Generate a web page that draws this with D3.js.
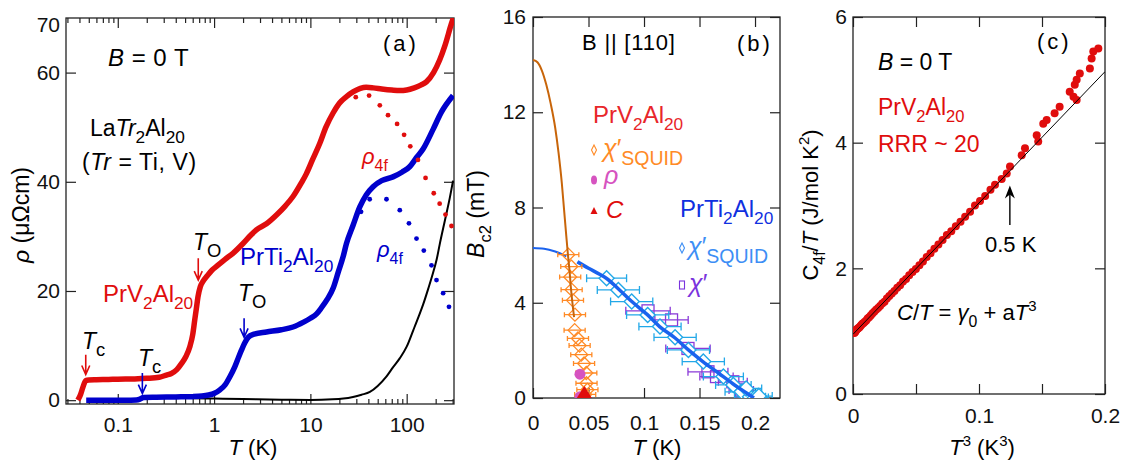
<!DOCTYPE html>
<html>
<head>
<meta charset="utf-8">
<script src="https://cdn.jsdelivr.net/npm/d3@7"></script>
<style>
  body { margin: 0; background: #fff; }
  svg text { font-family: Arial, "Liberation Sans", sans-serif; }
</style>
</head>
<body>
<svg id="fig" width="1129" height="464"></svg>
<script>
// ---------- panel (a): resistivity, [T (K), rho (uOhm cm)] ----------
var rhoPrV = [
  [0.0385,0],[0.041,1.0],[0.0435,2.4],[0.0465,3.6],[0.05,3.7],[0.06,3.75],[0.08,3.8],[0.1,3.85],
  [0.15,3.9],[0.2,4.0],[0.27,4.2],[0.32,4.6],[0.36,4.9],[0.41,5.6],[0.458,6.7],[0.51,8.0],
  [0.56,9.8],[0.6,12.0],[0.63,14.7],[0.655,16.8],[0.68,18.9],[0.72,20.8],[0.77,21.8],[0.85,22.8],
  [0.95,23.8],[1.06,24.5],[1.3,25.8],[1.57,26.9],[2.0,28.7],[2.4,30.2],[2.75,31.2],[3.5,32.3],
  [4.5,34.0],[5.5,35.6],[6.6,37.3],[8.0,39.7],[9.1,41.5],[10.5,44.0],[12.5,47.0],[14.5,50.0],
  [17.2,52.6],[20,54.4],[23.7,55.6],[28,56.5],[33,57.1],[38,57.3],[45,57.2],[55,57.0],
  [70,56.8],[85,56.7],[100,56.8],[120,57.2],[140,57.7],[160,58.3],[190,60.0],[220,62.3],
  [250,65.0],[292,69.0],[305,70]
];
var rhoPrTi = [
  [0.047,0],[0.08,0],[0.12,0],[0.156,0.05],[0.17,0.2],[0.185,0.5],[0.25,0.55],[0.4,0.6],
  [0.6,0.65],[0.75,0.75],[0.88,0.95],[0.99,1.2],[1.15,1.9],[1.3,2.8],[1.45,4.2],[1.64,6.1],
  [1.8,7.9],[1.93,9.2],[2.1,10.6],[2.26,11.5],[2.6,12.1],[3.5,12.5],[5.0,12.9],[6.6,13.4],
  [8.5,14.3],[10,15.0],[11.6,15.8],[13,16.9],[15,18.5],[17.3,20.6],[19.5,23.5],[21.9,26.3],
  [23.7,28.7],[27.7,32.0],[32.6,35.4],[38,37.6],[44.8,39.1],[55,40.2],[72,40.9],[90,41.8],
  [108,42.8],[126,44.4],[148,46.0],[188,49.6],[230,52.8],[303,55.8]
];
var rhoLa = [
  [0.6,0.35],[1,0.3],[2,0.2],[5,0.08],[10,0.05],[17,0.15],[22,0.3],[27.7,0.6],[34,1.0],
  [41.5,1.5],[50,2.6],[61.5,4.3],[72,6.0],[85,7.7],[100,9.8],[117,12.8],[133,15.3],[148,17.5],
  [168,20.5],[187,23.2],[205,25.8],[220,28.5],[250,33.0],[280,37.0],[303,40.2]
];
var rho4fPrV = [[29.6,55.5],[40.7,55.8],[52.6,54.0],[64,52.2],[79.5,50.6],[94,48.6],[109,46.5],
  [131,44.0],[157,40.7],[191,37.9],[220,36.0],[253,34.0],[292,31.9]];
var rho4fPrTi = [[33.6,34.5],[41.3,36.8],[61.7,36.8],[84.8,34.8],[105.6,32.4],[126.5,29.6],
  [150.6,27.4],[181,24.7],[204,22.0],[239,19.6],[275,17.1]];
var logMajorA = [0.1, 1, 10, 100];
var logMinorA = [0.03,0.04,0.05,0.06,0.07,0.08,0.09,0.2,0.3,0.4,0.5,0.6,0.7,0.8,0.9,
  2,3,4,5,6,7,8,9,20,30,40,50,60,70,80,90,200,300];
var yTicksA = [0, 20, 40, 60];

// ---------- panel (b): Bc2, [T (K), B (mT), dT] ----------
var bc2PrVfit = [[0,14.2],[0.004,14.1],[0.008,13.75],[0.012,13.15],[0.016,12.35],[0.02,11.35],
  [0.023,10.3],[0.026,9.0],[0.028,7.9],[0.030,6.8],[0.0315,6.0],[0.033,5.3],[0.034,4.7],
  [0.0355,4.0],[0.037,3.4]];
var bc2PrTiFit = [[0,6.3],[0.01,6.27],[0.02,6.15],[0.03,5.95],[0.04,5.72],[0.05,5.45],[0.06,5.2],
  [0.066,5.03],[0.077,4.58],[0.089,4.05],[0.103,3.5],[0.114,3.0],[0.128,2.52],[0.14,2.02],
  [0.153,1.53],[0.167,1.05],[0.18,0.6],[0.192,0.22],[0.199,0]];
var chiSquidV = [[0.0318,6.02,0.0095],[0.0345,5.52,0.0095],[0.0335,5.08,0.0095],[0.0348,4.55,0.0095],
  [0.036,4.1,0.0095],[0.0378,3.5,0.0095],[0.0375,2.85,0.0095],[0.0405,2.5,0.0095],[0.042,2.2,0.0095],
  [0.0435,1.82,0.0095],[0.046,1.45,0.0095],[0.048,1.05,0.0095],[0.0482,0.62,0.0095],
  [0.049,0.35,0.0095],[0.047,0.15,0.0095]];
var chiSquidTi = [[0.0663,5.03,0.018],[0.0769,4.54,0.019],[0.0889,4.05,0.019],[0.1033,3.49,0.019],
  [0.1144,3.0,0.019],[0.128,2.55,0.019],[0.140,2.02,0.019],[0.1534,1.53,0.019],[0.1715,0.9,0.018],
  [0.1805,0.55,0.016],[0.188,0.26,0.015],[0.1955,0.05,0.014],[0.192,0.4,0.014],[0.2,0.02,0.012],
  [0.2035,0.08,0.012]];
var chiAC = [[0.1036,3.66,0.02],[0.1248,3.28,0.015],[0.1396,2.08,0.02],[0.1576,1.1,0.018],
  [0.1653,0.9,0.015],[0.18,0.68,0.013],[0.1876,0.34,0.011],[0.192,0.05,0.01]];
var rhoPts = [[0.0423,1.0],[0.0423,0.05]];
var heatPts = [[0.0462,0]];
var xTicksB = [0, 0.05, 0.1, 0.15, 0.2];
var yTicksB = [0, 4, 8, 12, 16];

// ---------- panel (c): C4f/T vs T^3 ----------
var cT3 = [0.0010,0.0013,0.0017,0.0021,0.0026,0.0031,0.0037,0.0043,0.0050,0.0058,0.0066,0.0075,
  0.0084,0.0094,0.0105,0.0116,0.0128,0.0141,0.0154,0.0168,0.0183,0.0199,0.0215,0.0232,0.0250,
  0.0269,0.0288,0.0308,0.0329,0.0351,0.0374,0.0397,0.0421,0.0446,0.0472,0.0499,0.0527,0.0555,
  0.0585,0.0615,0.0646,0.0678,0.0711,0.0745,0.0780,0.0816,0.0853,0.0890,0.0929,0.0968,0.1008,
  0.1049,0.1091,0.1127,0.1180,0.1220,0.1246,0.1339,0.1365,0.1458,0.147,0.151,0.1537,0.160,
  0.164,0.172,0.175,0.1775,0.176,0.1775,0.180,0.188,0.1894,0.1907,0.1947];
var cOverT = [0.97,0.98,0.99,1.0,1.02,1.03,1.04,1.05,1.06,1.08,1.10,1.12,1.13,1.15,1.17,1.20,
  1.22,1.25,1.28,1.31,1.34,1.37,1.40,1.44,1.47,1.52,1.56,1.60,1.64,1.69,1.73,1.79,1.83,1.89,
  1.94,1.99,2.05,2.11,2.18,2.24,2.31,2.38,2.45,2.53,2.59,2.67,2.74,2.82,2.90,3.00,3.07,3.15,
  3.25,3.33,3.42,3.51,3.62,3.80,3.91,4.12,4.02,4.30,4.36,4.47,4.57,4.81,4.73,4.68,4.92,5.0,
  5.10,5.18,5.34,5.45,5.50];
var fitC = [[0,0.95],[0.2,5.13]];
var xTicksC = [0, 0.05, 0.1, 0.15, 0.2];
var yTicksC = [0, 2, 4, 6];

// ---------- helpers ----------
var svg = d3.select("#fig");
var FRAME = "#222";

// text with italic / sub / sup pieces: "b" = subscript, "p" = superscript, "i" = italic
function rich(g, x, y, parts, o) {
  var size = o.size || 22;
  var subScale = o.sub || 0.72;
  var t = g.append("text").attr("x", x).attr("y", y)
    .attr("font-size", size).attr("fill", o.color || "#000")
    .attr("text-anchor", o.anchor || "start");
  if (o.rotate) t.attr("transform", "rotate(-90," + x + "," + y + ")");
  var cur = 0;
  parts.forEach(function(p) {
    var s = typeof p === "string" ? p : p[0];
    var f = typeof p === "string" ? "" : p[1];
    var ts = t.append("tspan").text(s);
    var off = 0, fs = size;
    if (f.indexOf("b") >= 0) { off = size * 0.3; fs = size * subScale; }
    if (f.indexOf("p") >= 0) { off = -size * 0.42; fs = size * 0.68; }
    if (f.indexOf("i") >= 0) ts.attr("font-style", "italic");
    ts.attr("font-size", fs);
    if (off !== cur) ts.attr("dy", off - cur);
    cur = off;
  });
  return t;
}

function axis(g, gen, tr, labelled) {
  var a = g.append("g").attr("transform", tr).call(gen);
  a.select(".domain").remove();
  a.selectAll(".tick line").attr("stroke", FRAME).attr("stroke-width", 1.2);
  a.selectAll(".tick text").attr("font-size", 21).attr("fill", "#111")
    .attr("font-family", 'Arial, "Liberation Sans", sans-serif');
  if (!labelled) a.selectAll(".tick text").remove();
  return a;
}

function frame(g, x, y, id) {
  var r = [x.range()[0], y.range()[1], x.range()[1] - x.range()[0], y.range()[0] - y.range()[1]];
  svg.append("clipPath").attr("id", id).append("rect")
    .attr("x", r[0]).attr("y", r[1]).attr("width", r[2]).attr("height", r[3]);
  g.append("rect").attr("x", r[0]).attr("y", r[1]).attr("width", r[2]).attr("height", r[3])
    .attr("fill", "none").attr("stroke", FRAME).attr("stroke-width", 1.3);
  return g.append("g").attr("clip-path", "url(#" + id + ")");
}

function arrow(g, x, y0, y1, color) {
  g.append("path")
    .attr("d", "M" + x + "," + y0 + "L" + x + "," + y1 + "M" + (x - 4) + "," + (y1 - 9) + "L" + x + "," + y1 + "L" + (x + 4) + "," + (y1 - 9))
    .attr("fill", "none").attr("stroke", color).attr("stroke-width", 1.6);
}

function diamond(r) { return "M0," + (-r) + "L" + r + ",0L0," + r + "L" + (-r) + ",0Z"; }
var plain = function(d) { return String(d); };

// ================= panel (a) =================
var gA = svg.append("g");
var xA = d3.scaleLog().domain([0.029, 310]).range([66, 454]);
var yA = d3.scaleLinear().domain([-0.7, 70]).range([404, 18]);

axis(gA, d3.axisBottom(xA).tickValues(logMajorA).tickFormat(plain)
  .tickSizeInner(-10).tickSizeOuter(0).tickPadding(13), "translate(0,404)", true);
axis(gA, d3.axisBottom(xA).tickValues(logMinorA).tickSizeInner(-5).tickSizeOuter(0), "translate(0,404)", false);
axis(gA, d3.axisTop(xA).tickValues(logMajorA).tickSizeInner(-10).tickSizeOuter(0), "translate(0,18)", false);
axis(gA, d3.axisTop(xA).tickValues(logMinorA).tickSizeInner(-5).tickSizeOuter(0), "translate(0,18)", false);
axis(gA, d3.axisLeft(yA).tickValues(yTicksA).tickFormat(plain).tickSizeInner(-10).tickSizeOuter(0).tickPadding(6), "translate(66,0)", true);
axis(gA, d3.axisRight(yA).tickValues(yTicksA).tickSizeInner(-10).tickSizeOuter(0), "translate(454,0)", false);
gA.append("text").attr("x", 60).attr("y", yA(70) + 14).attr("text-anchor", "end")
  .attr("font-size", 21).attr("fill", "#111").text("70");

var pA = frame(gA, xA, yA, "clipA");
var lineA = d3.line().x(function(d) { return xA(d[0]); }).y(function(d) { return yA(d[1]); })
  .curve(d3.curveMonotoneX);
pA.append("path").datum(rhoLa).attr("d", lineA).attr("fill", "none").attr("stroke", "#000").attr("stroke-width", 2);
pA.append("path").datum(rhoPrTi).attr("d", lineA).attr("fill", "none").attr("stroke", "#0000cc").attr("stroke-width", 5.5);
pA.append("path").datum(rhoPrV).attr("d", lineA).attr("fill", "none").attr("stroke", "#e00d0d").attr("stroke-width", 5.5);
pA.selectAll(".dv").data(rho4fPrV).enter().append("circle")
  .attr("cx", function(d) { return xA(d[0]); }).attr("cy", function(d) { return yA(d[1]); })
  .attr("r", 2.4).attr("fill", "#e00d0d");
pA.selectAll(".dt").data(rho4fPrTi).enter().append("circle")
  .attr("cx", function(d) { return xA(d[0]); }).attr("cy", function(d) { return yA(d[1]); })
  .attr("r", 2.4).attr("fill", "#0000cc");

// arrows at transitions
arrow(gA, xA(0.0465), yA(8.3), yA(4.7), "#e00d0d");
arrow(gA, xA(0.18), yA(5.0), yA(1.2), "#0000cc");
arrow(gA, xA(0.685), yA(26.0), yA(22.0), "#e00d0d");
arrow(gA, xA(2.05), yA(15.0), yA(11.5), "#0000cc");

// annotations (a)
rich(gA, 383, 51, ["(a)"], { size: 22 }).attr("letter-spacing", 3);
rich(gA, 108, 66, [["B", "i"], " = 0 T"], { size: 24 }).attr("letter-spacing", 0.5);
rich(gA, 90, 136, ["La", ["Tr", "i"], ["2", "b"], "Al", ["20", "b"]], { size: 23, sub: 0.75 });
rich(gA, 82, 170, ["(", ["Tr", "i"], " = Ti, V)"], { size: 23 }).attr("letter-spacing", 0.6);
rich(gA, 362, 164, [["ρ", "i"], ["4f", "b"]], { size: 22, color: "#e00d0d" });
rich(gA, 377, 257, [["ρ", "i"], ["4f", "b"]], { size: 22, color: "#0000cc" });
rich(gA, 193, 250, [["T", "i"], ["O", "b"]], { size: 23, sub: 0.8 });
rich(gA, 238, 301, [["T", "i"], ["O", "b"]], { size: 23, sub: 0.8 });
rich(gA, 82, 349, [["T", "i"], ["c", "b"]], { size: 23, sub: 0.8 });
rich(gA, 138, 366, [["T", "i"], ["c", "b"]], { size: 23, sub: 0.8 });
rich(gA, 103, 302, ["PrV", ["2", "b"], "Al", ["20", "b"]], { size: 24, color: "#e00d0d" });
rich(gA, 240, 265, ["PrTi", ["2", "b"], "Al", ["20", "b"]], { size: 24, color: "#0000cc" });
rich(gA, 253, 455, [["T", "i"], " (K)"], { size: 22, anchor: "middle" });
rich(gA, 29, 215, [["ρ", "i"], " (μΩcm)"], { size: 23, anchor: "middle", rotate: true });

// ================= panel (b) =================
var gB = svg.append("g");
var xB = d3.scaleLinear().domain([0, 0.2225]).range([533, 780]);
var yB = d3.scaleLinear().domain([0, 16]).range([398, 17]);

axis(gB, d3.axisBottom(xB).tickValues(xTicksB).tickFormat(plain)
  .tickSizeInner(-10).tickSizeOuter(0).tickPadding(17), "translate(0,398)", true);
axis(gB, d3.axisTop(xB).tickValues(xTicksB).tickSizeInner(-10).tickSizeOuter(0), "translate(0,17)", false);
axis(gB, d3.axisLeft(yB).tickValues(yTicksB).tickFormat(plain).tickSizeInner(-10).tickSizeOuter(0).tickPadding(7), "translate(533,0)", true);
axis(gB, d3.axisRight(yB).tickValues(yTicksB).tickSizeInner(-10).tickSizeOuter(0), "translate(780,0)", false);

var pB = frame(gB, xB, yB, "clipB");
var lineB = d3.line().x(function(d) { return xB(d[0]); }).y(function(d) { return yB(d[1]); })
  .curve(d3.curveMonotoneX);

function errBars(g, data, color, cap) {
  var e = g.append("g").attr("stroke", color).attr("stroke-width", 1.3).attr("fill", "none");
  data.forEach(function(d) {
    var y = yB(d[1]), x0 = xB(d[0] - d[2]), x1 = xB(d[0] + d[2]);
    e.append("path").attr("d", "M" + x0 + "," + y + "L" + x1 + "," + y +
      "M" + x0 + "," + (y - cap) + "L" + x0 + "," + (y + cap) +
      "M" + x1 + "," + (y - cap) + "L" + x1 + "," + (y + cap));
  });
}

// PrTi2Al20: chi' (ac) squares, then SQUID diamonds, then fit
errBars(pB, chiAC, "#8a3ad8", 4);
pB.selectAll(".sq").data(chiAC).enter().append("rect")
  .attr("x", function(d) { return xB(d[0]) - 6; }).attr("y", function(d) { return yB(d[1]) - 6; })
  .attr("width", 12).attr("height", 12)
  .attr("fill", "none").attr("stroke", "#8a3ad8").attr("stroke-width", 1.3);
errBars(pB, chiSquidTi, "#22a8e8", 4);
pB.selectAll(".dti").data(chiSquidTi).enter().append("path")
  .attr("d", diamond(7.5))
  .attr("transform", function(d) { return "translate(" + xB(d[0]) + "," + yB(d[1]) + ")"; })
  .attr("fill", "#fff").attr("stroke", "#22a8e8").attr("stroke-width", 1.4);
pB.append("path").datum(bc2PrTiFit.filter(function(d) { return d[0] <= 0.034; })).attr("d", lineB)
  .attr("fill", "none").attr("stroke", "#1a62ee").attr("stroke-width", 2);
pB.append("path").datum(bc2PrTiFit.filter(function(d) { return d[0] >= 0.033; })).attr("d", lineB)
  .attr("fill", "none").attr("stroke", "#1a62ee").attr("stroke-width", 3.5);

// PrV2Al20: SQUID diamonds, fit, rho and C points
errBars(pB, chiSquidV, "#ff8a26", 2.5);
pB.selectAll(".dv").data(chiSquidV).enter().append("path")
  .attr("d", diamond(6.5))
  .attr("transform", function(d) { return "translate(" + xB(d[0]) + "," + yB(d[1]) + ")"; })
  .attr("fill", "none").attr("stroke", "#ff8a26").attr("stroke-width", 1.3);
pB.append("path").datum(bc2PrVfit).attr("d", lineB)
  .attr("fill", "none").attr("stroke", "#c8650a").attr("stroke-width", 2);
pB.selectAll(".rp").data(rhoPts).enter().append("circle")
  .attr("cx", function(d) { return xB(d[0]); }).attr("cy", function(d) { return yB(d[1]); })
  .attr("r", 5.5).attr("fill", "#d653c0");
pB.selectAll(".cp").data(heatPts).enter().append("path")
  .attr("d", "M-7.5,0L7.5,0L0,-12Z")
  .attr("transform", function(d) { return "translate(" + xB(d[0]) + "," + yB(d[1]) + ")"; })
  .attr("fill", "#e00d0d");

// legend / annotations (b)
rich(gB, 582, 50, ["B || [110]"], { size: 22 }).attr("letter-spacing", 0.8);
rich(gB, 737, 51, ["(b)"], { size: 22 }).attr("letter-spacing", 3);
rich(gB, 593, 123, ["PrV", ["2", "b"], "Al", ["20", "b"]], { size: 24, color: "#e8262a" });
gB.append("path").attr("d", "M594,145L596.5,150L594,155L591.5,150Z").attr("fill", "none")
  .attr("stroke", "#ff8a26").attr("stroke-width", 1.1);
rich(gB, 603, 157, [["χ", "i"], "′", ["SQUID", "b"]], { size: 25, color: "#ff8a26", sub: 0.78 });
gB.append("ellipse").attr("cx", 594).attr("cy", 180).attr("rx", 3).attr("ry", 4.5).attr("fill", "#d653c0");
rich(gB, 604, 184, [["ρ", "i"]], { size: 25, color: "#d653c0" });
gB.append("path").attr("d", "M590.5,214L597.5,214L594,207Z").attr("fill", "#e00d0d");
rich(gB, 606, 218, [["C", "i"]], { size: 24, color: "#e00d0d" });
rich(gB, 680, 217, ["PrTi", ["2", "b"], "Al", ["20", "b"]], { size: 24, color: "#1030e0" });
gB.append("path").attr("d", "M682,243L684.5,248L682,253L679.5,248Z").attr("fill", "none")
  .attr("stroke", "#3d8ef5").attr("stroke-width", 1.1);
rich(gB, 688, 255, [["χ", "i"], "′", ["SQUID", "b"]], { size: 25, color: "#3d8ef5", sub: 0.78 });
gB.append("rect").attr("x", 679.5).attr("y", 281).attr("width", 5).attr("height", 8)
  .attr("fill", "none").attr("stroke", "#7a33dd").attr("stroke-width", 1.1);
rich(gB, 689, 292, [["χ", "i"], "′"], { size: 25, color: "#7a33dd" });
rich(gB, 657, 455, [["T", "i"], " (K)"], { size: 22, anchor: "middle" });
rich(gB, 484, 214, [["B", "i"], ["c2", "b"], " (mT)"], { size: 23, anchor: "middle", rotate: true });

// ================= panel (c) =================
var gC = svg.append("g");
var xC = d3.scaleLinear().domain([0, 0.2]).range([853, 1105]);
var yC = d3.scaleLinear().domain([0, 6]).range([394, 17]);

axis(gC, d3.axisBottom(xC).tickValues(xTicksC)
  .tickFormat(function(d) { return [0, 0.1, 0.2].indexOf(d) >= 0 ? String(d) : ""; })
  .tickSizeInner(-10).tickSizeOuter(0).tickPadding(14), "translate(0,394)", true);
axis(gC, d3.axisTop(xC).tickValues(xTicksC).tickSizeInner(-10).tickSizeOuter(0), "translate(0,17)", false);
axis(gC, d3.axisLeft(yC).tickValues(yTicksC).tickFormat(plain).tickSizeInner(-10).tickSizeOuter(0).tickPadding(6), "translate(853,0)", true);
axis(gC, d3.axisRight(yC).tickValues(yTicksC).tickSizeInner(-10).tickSizeOuter(0), "translate(1105,0)", false);

var pC = frame(gC, xC, yC, "clipC");
pC.selectAll(".cd").data(cT3).enter().append("circle")
  .attr("cx", function(d) { return xC(d); })
  .attr("cy", function(d, i) { return yC(cOverT[i]); })
  .attr("r", 4).attr("fill", "#e00d0d");
pC.append("path").datum(fitC)
  .attr("d", d3.line().x(function(d) { return xC(d[0]); }).y(function(d) { return yC(d[1]); }))
  .attr("fill", "none").attr("stroke", "#000").attr("stroke-width", 1);

// arrow marking 0.5 K (T^3 = 0.125)
var ax = xC(0.1245), ay0 = yC(2.69), ay1 = yC(3.32);
gC.append("path").attr("d", "M" + ax + "," + ay0 + "L" + ax + "," + (ay1 + 8))
  .attr("stroke", "#000").attr("stroke-width", 1.4);
gC.append("path").attr("d", "M" + ax + "," + ay1 + "L" + (ax - 5) + "," + (ay1 + 13) + "L" + ax + "," + (ay1 + 9) +
  "L" + (ax + 5) + "," + (ay1 + 13) + "Z").attr("fill", "#000");

rich(gC, 1037, 49, ["(c)"], { size: 22 }).attr("letter-spacing", 3);
rich(gC, 878, 70, [["B", "i"], " = 0 T"], { size: 23 });
rich(gC, 878, 115, ["PrV", ["2", "b"], "Al", ["20", "b"]], { size: 23, color: "#e00d0d" });
rich(gC, 878, 152, ["RRR ~ 20"], { size: 23, color: "#e00d0d" });
rich(gC, 985, 252, ["0.5 K"], { size: 22 });
rich(gC, 897, 320, [["C", "i"], "/", ["T", "i"], " = ", ["γ", "i"], ["0", "b"], " + a", ["T", "i"], ["3", "p"]], { size: 22 });
rich(gC, 982, 455, [["T", "i"], ["3", "p"], " (K", ["3", "p"], ")"], { size: 22, anchor: "middle" });
rich(gC, 818, 205, ["C", ["4f", "b"], "/", ["T", "i"], " (J/mol K", ["2", "p"], ")"], { size: 22, anchor: "middle", rotate: true });
</script>
</body>
</html>
